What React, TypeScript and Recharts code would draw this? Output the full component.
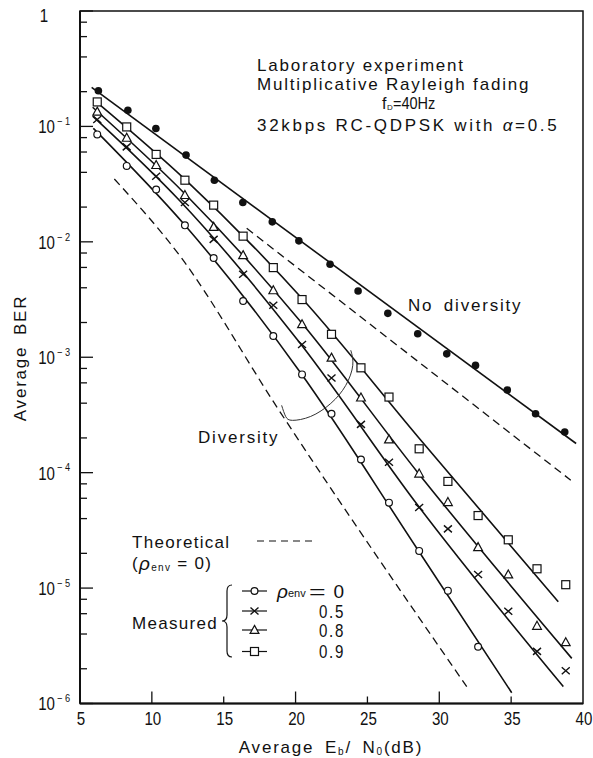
import React from 'react';
import { ComposedChart, Line, Scatter, XAxis, YAxis, ReferenceArea, Customized } from 'recharts';

const CHART_W = 593;
const CHART_H = 758;

// Measured points (Eb/N0 in dB, average BER)
const EBN0_NODIV = [6.28, 8.33, 10.28, 12.38, 14.35, 16.33, 18.38, 20.23, 22.4, 24.35, 26.42, 28.5, 30.52, 32.52, 34.73, 36.7, 38.73];
const BER_NODIV = [0.204, 0.138, 0.096, 0.0564, 0.0342, 0.0219, 0.0149, 0.0102, 0.0064, 0.00375, 0.0024, 0.0016, 0.00107, 0.00085, 0.00052, 0.000324, 0.000225];

const EBN0_DIV = [6.2, 8.25, 10.3, 12.3, 14.3, 16.35, 18.45, 20.45, 22.5, 24.55, 26.5, 28.6, 30.6, 32.7, 34.8, 36.8, 38.8];
const BER_RHO_0 = [0.0853, 0.0455, 0.0284, 0.0139, 0.00724, 0.00307, 0.00153, 0.00071, 0.000324, 0.00013, 5.5e-5, 2.1e-5, 9.5e-6, 3.1e-6];
const BER_RHO_05 = [0.115, 0.0665, 0.037, 0.0219, 0.0105, 0.00524, 0.00282, 0.00129, 0.00066, 0.000262, 0.000123, 5.0e-5, 3.26e-5, 1.31e-5, 6.3e-6, 2.83e-6, 1.92e-6];
const BER_RHO_08 = [0.134, 0.0796, 0.0462, 0.0254, 0.01346, 0.00765, 0.0038, 0.00193, 0.00099, 0.000447, 0.000194, 9.8e-5, 5.55e-5, 2.26e-5, 1.31e-5, 4.7e-6, 3.39e-6];
const BER_RHO_09 = [0.163, 0.099, 0.0572, 0.0342, 0.0208, 0.0112, 0.00598, 0.00316, 0.00158, 0.00081, 0.000452, 0.000161, 8.4e-5, 4.25e-5, 2.62e-5, 1.47e-5, 1.07e-5];

// Fitted curves through the measurements
const FIT_NODIV_DB = [5.81, 39.52];
const FIT_NODIV_BER = [0.218, 1.79e-4];
const FIT_RHO_0_DB = [5.93, 12.26, 20.36, 28.47, 35.04];
const FIT_RHO_0_BER = [0.0963, 0.01413, 7.3e-4, 2.18e-5, 1.24e-6];
const FIT_RHO_05_DB = [5.88, 11.96, 20.36, 28.49, 38.63];
const FIT_RHO_05_BER = [0.123, 0.0226, 1.3e-3, 5.24e-5, 1.4e-6];
const FIT_RHO_08_DB = [5.88, 12.31, 20.43, 28.54, 39.22];
const FIT_RHO_08_BER = [0.1465, 0.026, 1.98e-3, 9.9e-5, 2.46e-6];
const FIT_RHO_09_DB = [5.93, 12.36, 20.5, 28.54, 38.28];
const FIT_RHO_09_BER = [0.1717, 0.0343, 3.18e-3, 2.03e-4, 7.6e-6];

// Theoretical curves (rho_env = 0)
const THEORY_NODIV_DB = [16.6, 39.15];
const THEORY_NODIV_BER = [0.0131, 8.6e-5];
const THEORY_DIV_DB = [7.39, 11.96, 18.69, 31.91];
const THEORY_DIV_BER = [0.035, 7.53e-3, 3.72e-4, 1.4e-6];

// Bracket grouping the diversity curves
const ARC_DB = [19.03, 19.31, 19.79, 21.05, 22.45, 23.49, 23.98, 23.84];
const ARC_BER = [3.83e-4, 3.07e-4, 2.84e-4, 3.07e-4, 3.98e-4, 5.7e-4, 8.51e-4, 1.15e-3];

// Axes
const X_TICKS = [5, 10, 15, 20, 25, 30, 35, 40];
const X_LONG_TICKS = [10, 20, 30];
const X_SHORT_TICKS = [15, 25, 35];
const Y_DECADES = [1e-6, 1e-5, 1e-4, 1e-3, 1e-2, 1e-1, 1];
const Y_MINOR_STEPS = [2, 4, 6, 8];
const Y_TICKS = [
  ...Y_DECADES,
  ...Y_DECADES.slice(0, -1).flatMap((d) => Y_MINOR_STEPS.map((m) => +(d * m).toPrecision(3))),
].sort((a, b) => a - b);

const SANS = "'Liberation Sans', Arial, Helvetica, sans-serif";
const INK = '#111';

const zip = (xs: number[], ys: number[]) => ys.map((y, i) => ({ x: xs[i], y }));

// Condensed numerals, as in the printed figure
const Narrow = ({ x, y, anchor = 'start', size = 18, spacing = 0, squeeze = 0.84, children }: any) => (
  <g transform={`translate(${x},${y}) scale(${squeeze},1)`}>
    <text
      x={0}
      y={0}
      textAnchor={anchor}
      dominantBaseline="central"
      fontFamily={SANS}
      fontSize={size}
      letterSpacing={spacing}
      fill={INK}
    >
      {children}
    </text>
  </g>
);

// Marker shapes
const FilledDot = ({ cx, cy }: any) => <circle cx={cx} cy={cy} r={3.8} fill={INK} />;
const OpenCircle = ({ cx, cy }: any) => (
  <circle cx={cx} cy={cy} r={3.4} fill="#fff" stroke={INK} strokeWidth={1.2} />
);
const CrossMark = ({ cx, cy }: any) => (
  <path
    d={`M${cx - 4},${cy - 3.5}L${cx + 4},${cy + 3.5}M${cx - 4},${cy + 3.5}L${cx + 4},${cy - 3.5}`}
    stroke={INK}
    strokeWidth={1.4}
    fill="none"
  />
);
const TriangleMark = ({ cx, cy }: any) => (
  <path
    d={`M${cx},${cy - 4.6}L${cx + 4.4},${cy + 3.4}L${cx - 4.4},${cy + 3.4}Z`}
    fill="#fff"
    stroke={INK}
    strokeWidth={1.2}
  />
);
const SquareMark = ({ cx, cy }: any) => (
  <rect x={cx - 4} y={cy - 4} width={8} height={8} fill="#fff" stroke={INK} strokeWidth={1.2} />
);

const YTick = (props: any) => {
  const { x, y, payload } = props;
  const v = payload.value;
  const major = Y_DECADES.includes(v);
  const exp = Math.round(Math.log10(v));
  return (
    <g>
      <line x1={x} x2={x + (major ? 13 : 7)} y1={y} y2={y} stroke={INK} strokeWidth={1.3} />
      {major && exp === 0 && (
        <Narrow x={x - 36} y={y + 5} anchor="middle">1</Narrow>
      )}
      {major && exp !== 0 && (
        <g>
          <Narrow x={x - 25} y={y + 1} anchor="end">10</Narrow>
          <Narrow x={x - 23} y={y - 5} size={11}>{`\u2212 ${-exp}`}</Narrow>
        </g>
      )}
    </g>
  );
};

const XTick = (props: any) => {
  const { x, y, payload } = props;
  const v = payload.value;
  const len = X_LONG_TICKS.includes(v) ? 12 : X_SHORT_TICKS.includes(v) ? 7 : 0;
  return (
    <g>
      {len > 0 && <line x1={x} x2={x} y1={y} y2={y - len} stroke={INK} strokeWidth={1.3} />}
      <Narrow x={x + 1} y={y + 16} anchor="middle">{v}</Narrow>
    </g>
  );
};

const Annotations = () => {
  const big = { fontFamily: SANS, fontSize: 17, fill: INK, letterSpacing: 1.8 } as const;
  const leg = { fontFamily: SANS, fontSize: 17, fill: INK, letterSpacing: 1.3 } as const;
  const markerRows = [
    { y: 591, Mark: OpenCircle },
    { y: 611, Mark: CrossMark },
    { y: 630, Mark: TriangleMark },
    { y: 651.5, Mark: SquareMark },
  ];
  return (
    <g>
      {/* experiment conditions */}
      <text x={257} y={65} dominantBaseline="central" {...big}>Laboratory experiment</text>
      <text x={257} y={84} dominantBaseline="central" {...big}>Multiplicative Rayleigh fading</text>
      <text x={382} y={103} dominantBaseline="central" fontFamily={SANS} fontSize={16} fill={INK}>f</text>
      <text x={387} y={107} dominantBaseline="central" fontFamily={SANS} fontSize={8} fill={INK}>D</text>
      <Narrow x={393} y={103} size={16.5} squeeze={0.88}>=40Hz</Narrow>
      <text x={257} y={125} dominantBaseline="central" {...big} letterSpacing={2.7}>
        32kbps RC-QDPSK with <tspan fontStyle="italic">α</tspan>=0.5
      </text>

      {/* curve labels */}
      <text x={408} y={305} dominantBaseline="central" {...big} wordSpacing={4}>No diversity</text>
      <text x={198} y={437} dominantBaseline="central" {...big}>Diversity</text>

      {/* legend */}
      <text x={132} y={542} dominantBaseline="central" {...leg}>Theoretical</text>
      <line x1={257} x2={313} y1={541} y2={541} stroke={INK} strokeWidth={1.2} strokeDasharray="7 5" />
      <text x={132} y={563} dominantBaseline="central" {...leg}>
        (<tspan fontStyle="italic" fontSize={19}>ρ</tspan>
        <tspan fontSize={10} dy={4}>env</tspan>
        <tspan dy={-4}> = 0)</tspan>
      </text>
      <text x={132} y={623} dominantBaseline="central" {...leg}>Measured</text>
      <path
        d="M232,585 Q227,585 227,591 L227,615 Q227,621 222,621 Q227,621 227,627 L227,651 Q227,657 232,657"
        fill="none"
        stroke={INK}
        strokeWidth={1.2}
      />
      {markerRows.map(({ y, Mark }) => (
        <g key={y}>
          <line x1={242} x2={267} y1={y} y2={y} stroke={INK} strokeWidth={1.2} />
          <Mark cx={254.5} cy={y} />
        </g>
      ))}
      <text x={277} y={591} dominantBaseline="central" fontFamily={SANS} fontSize={17} fill={INK}>
        <tspan fontStyle="italic" fontSize={19}>ρ</tspan>
        <tspan fontSize={11} dy={2}>env</tspan>
      </text>
      <g transform="translate(309,591) scale(1.5,1)">
        <text x={0} y={0} dominantBaseline="central" fontFamily={SANS} fontSize={19} fill={INK}>=</text>
      </g>
      <text x={344} y={591} textAnchor="end" dominantBaseline="central" fontFamily={SANS} fontSize={19} fill={INK}>0</text>
      <Narrow x={345} y={612} anchor="end" size={18} spacing={2}>0.5</Narrow>
      <Narrow x={345} y={631} anchor="end" size={18} spacing={2}>0.8</Narrow>
      <Narrow x={345} y={652} anchor="end" size={18} spacing={2}>0.9</Narrow>

      {/* axis titles */}
      <text
        x={20}
        y={358}
        transform="rotate(-90 20 358)"
        textAnchor="middle"
        dominantBaseline="central"
        {...big}
        wordSpacing={4}
      >
        Average BER
      </text>
      <text x={331} y={747} textAnchor="middle" dominantBaseline="central" {...big} wordSpacing={4}>
        Average E<tspan fontSize={10} dy={4}>b</tspan>
        <tspan dy={-4}>/ N</tspan>
        <tspan fontSize={10} dy={4}>0</tspan>
        <tspan dy={-4}>(dB)</tspan>
      </text>
    </g>
  );
};

const PAGE_CSS = 'html,body{margin:0;padding:0;overflow:hidden;background:#fff}';

export default function App() {
  const solid = { stroke: INK, strokeWidth: 1.6, dot: false, isAnimationActive: false, type: 'monotone' as const };
  const dashed = { ...solid, strokeWidth: 1.3, strokeDasharray: '8 5' };
  return (
    <div style={{ width: CHART_W, height: CHART_H, background: '#fff' }}>
      <style>{PAGE_CSS}</style>
      <ComposedChart width={CHART_W} height={CHART_H} margin={{ top: 11, right: 10, bottom: 14.5, left: 0 }}>
        <XAxis
          type="number"
          dataKey="x"
          domain={[5, 40]}
          ticks={X_TICKS}
          interval={0}
          tickSize={0}
          tickMargin={0}
          tick={<XTick />}
          axisLine={{ stroke: INK, strokeWidth: 2 }}
          tickLine={false}
          height={40}
          allowDataOverflow
        />
        <YAxis
          type="number"
          dataKey="y"
          scale="log"
          domain={[1e-6, 1]}
          ticks={Y_TICKS}
          interval={0}
          tickSize={0}
          tickMargin={0}
          tick={<YTick />}
          axisLine={{ stroke: INK, strokeWidth: 2 }}
          tickLine={false}
          width={80}
          allowDataOverflow
        />
        <ReferenceArea x1={5} x2={40} y1={1e-6} y2={1} fill="none" stroke={INK} strokeWidth={1.5} />

        <Line data={zip(THEORY_NODIV_DB, THEORY_NODIV_BER)} dataKey="y" {...dashed} />
        <Line data={zip(THEORY_DIV_DB, THEORY_DIV_BER)} dataKey="y" {...dashed} />

        <Line data={zip(FIT_NODIV_DB, FIT_NODIV_BER)} dataKey="y" {...solid} />
        <Line data={zip(FIT_RHO_0_DB, FIT_RHO_0_BER)} dataKey="y" {...solid} />
        <Line data={zip(FIT_RHO_05_DB, FIT_RHO_05_BER)} dataKey="y" {...solid} />
        <Line data={zip(FIT_RHO_08_DB, FIT_RHO_08_BER)} dataKey="y" {...solid} />
        <Line data={zip(FIT_RHO_09_DB, FIT_RHO_09_BER)} dataKey="y" {...solid} />

        <Line data={zip(ARC_DB, ARC_BER)} dataKey="y" stroke="#333" strokeWidth={1} dot={false} type="natural" isAnimationActive={false} />

        <Scatter data={zip(EBN0_NODIV, BER_NODIV)} dataKey="y" shape={FilledDot} isAnimationActive={false} />
        <Scatter data={zip(EBN0_DIV, BER_RHO_0)} dataKey="y" shape={OpenCircle} isAnimationActive={false} />
        <Scatter data={zip(EBN0_DIV, BER_RHO_05)} dataKey="y" shape={CrossMark} isAnimationActive={false} />
        <Scatter data={zip(EBN0_DIV, BER_RHO_08)} dataKey="y" shape={TriangleMark} isAnimationActive={false} />
        <Scatter data={zip(EBN0_DIV, BER_RHO_09)} dataKey="y" shape={SquareMark} isAnimationActive={false} />

        <Customized component={<Annotations />} />
      </ComposedChart>
    </div>
  );
}
